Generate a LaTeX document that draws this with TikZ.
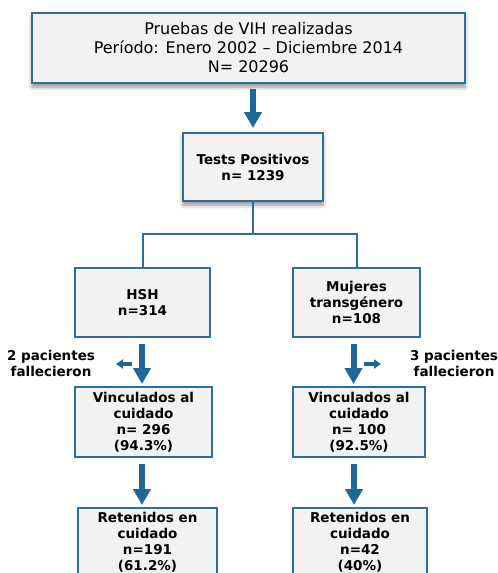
\documentclass[tikz,border=0pt]{standalone}
\usepackage{fontspec}
\setmainfont{DejaVu Sans}
\usetikzlibrary{arrows.meta,shadows.blur}
\definecolor{bordc}{RGB}{46,110,155}
\definecolor{arrc}{RGB}{31,103,150}
\definecolor{boxfill}{RGB}{242,242,242}
\tikzset{
  box/.style={draw=bordc,line width=2pt,fill=boxfill,align=center,inner sep=0pt,font=\fontsize{13.5}{16}\selectfont\bfseries},
  shbox/.style={box,blur shadow={shadow xshift=0pt,shadow yshift=-4pt,shadow blur radius=4pt,shadow opacity=45}},
  bigarrow/.style={draw=arrc,line width=6pt,-{Triangle[width=17pt,length=16pt]}},
  smallarrow/.style={draw=arrc,line width=4pt,-{Triangle[width=9pt,length=7pt]}},
  conn/.style={draw=bordc,line width=2pt},
  note/.style={align=center,inner sep=0pt,font=\fontsize{13.5}{16}\selectfont\bfseries}
}
\begin{document}
\begin{tikzpicture}[x=1pt,y=-1pt]
\clip (0,0) rectangle (498,573);
\useasboundingbox (0,0) rectangle (498,573);
\node[shbox,minimum width=433pt,minimum height=70pt,font=\fontsize{16}{19}\selectfont] (top) at (248.5,48) {Pruebas de VIH realizadas\\Período: Enero 2002 – Diciembre 2014\\N= 20296};
\node[shbox,minimum width=140pt,minimum height=68pt] (tp) at (253,167) {Tests Positivos\\n= 1239};
\node[box,minimum width=135pt,minimum height=69pt] (hsh) at (142.5,302.5) {HSH\\n=314};
\node[box,minimum width=127pt,minimum height=69pt] (mt) at (356.5,302.5) {Mujeres\\transgénero\\n=108};
\node[box,minimum width=137pt,minimum height=70pt] (vl) at (143.5,422) {Vinculados al\\cuidado\\n= 296\\(94.3\%)};
\node[box,minimum width=132pt,minimum height=70pt] (vr) at (359,422) {Vinculados al\\cuidado\\n= 100\\(92.5\%)};
\node[box,minimum width=139pt,minimum height=68pt,anchor=north] (rl) at (147.5,507) {Retenidos en\\cuidado\\n=191\\(61.2\%)};
\node[box,minimum width=134pt,minimum height=68pt,anchor=north] (rr) at (360,507) {Retenidos en\\cuidado\\n=42\\(40\%)};
\node[note] (dl) at (51,363) {2 pacientes\\fallecieron};
\node[note] (dr) at (454,363) {3 pacientes\\fallecieron};
% main arrows
\draw[bigarrow,shorten <=5pt,shorten >=4pt] ([xshift=4.5pt]top.south) -- (tp.north);
\draw[bigarrow,shorten <=6pt,shorten >=2pt] ([xshift=-0.5pt]hsh.south) -- ([xshift=-1.5pt]vl.north);
\draw[bigarrow,shorten <=6pt,shorten >=2pt] ([xshift=-3pt]mt.south) -- ([xshift=-5.5pt]vr.north);
\draw[bigarrow,shorten <=6pt,shorten >=2pt] ([xshift=-1.5pt]vl.south) -- ([xshift=-5.5pt]rl.north);
\draw[bigarrow,shorten <=6pt,shorten >=2pt] ([xshift=-5pt]vr.south) -- ([xshift=-6pt]rr.north);
% split connector
\coordinate (jn) at (253,234);
\draw[conn] (tp.south) -- (jn);
\draw[conn] (hsh.north) -- (hsh.north |- jn) -- (mt.north |- jn) -- (mt.north);
% small arrows
\coordinate (sla) at (132,364);
\coordinate (slb) at (116,364);
\coordinate (sra) at (364,364);
\coordinate (srb) at (381,364);
\draw[smallarrow] (sla) -- (slb);
\draw[smallarrow] (sra) -- (srb);
\end{tikzpicture}
\end{document}
